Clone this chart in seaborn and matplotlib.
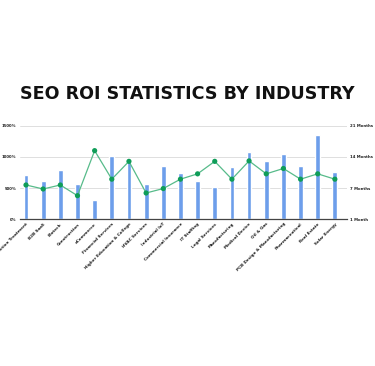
import seaborn as sns
import pandas as pd
import matplotlib.pyplot as plt

industries = [
    'Addiction Treatment', 'B2B SaaS', 'Biotech', 'Construction', 'eCommerce',
    'Financial Services', 'Higher Education & College', 'HVAC Services',
    'Industrial IoT', 'Commercial Insurance', 'IT Staffing', 'Legal Services',
    'Manufacturing', 'Medical Device', 'Oil & Gas', 'PCB Design & Manufacturing',
    'Pharmaceutical', 'Real Estate', 'Solar Energy'
]
# ROI in percent (bars, left axis)
roi = [705, 620, 796, 566, 310, 1020, 950, 561, 849, 737, 620, 513, 833,
       1079, 929, 1047, 849, 1346, 753]
# break-even time in months (line, right axis)
months = [7.7, 6.8, 7.7, 5.3, 15.4, 9.0, 13.0, 5.9, 6.9, 9.0, 10.2, 13.0,
          9.0, 13.1, 10.2, 11.4, 9.0, 10.2, 9.0]

left_ticks = [0, 500, 1000, 1500]
left_labels = ['0%', '500%', '1000%', '1500%']
right_ticks = [0, 7, 14, 21]
right_labels = ['1 Month', '7 Months', '14 Months', '21 Months']

df = pd.DataFrame({'industry': industries, 'roi': roi, 'months': months,
                   'pos': range(len(industries))})

sns.set_style('white')
plt.rcParams['font.family'] = ['DejaVu Sans']

fig = plt.figure(figsize=(3.75, 3.66), dpi=100)
ax = fig.add_axes([0.0533, 0.4008, 0.8717, 0.2558])

sns.barplot(data=df, x='industry', y='roi', color='#6d9eeb', saturation=1,
            width=0.28, ax=ax)
ax.set_xlim(-0.35, 18.7)
ax.set_ylim(0, 1500)
ax.set_yticks(left_ticks)
ax.set_yticklabels(left_labels)
ax.grid(axis='y', color='#d9d9d9', linewidth=0.6)
ax.set_axisbelow(True)
for s in ['top', 'right', 'left']:
    ax.spines[s].set_visible(False)
ax.spines['bottom'].set_color('#444444')
ax.spines['bottom'].set_linewidth(0.9)
ax.tick_params(axis='both', length=0, labelsize=3.0, colors='#222222')
ax.tick_params(axis='y', labelsize=2.8, pad=2.5)
ax.tick_params(axis='x', pad=2)
ax.set_xlabel('')
ax.set_ylabel('')
for lab in ax.get_xticklabels():
    lab.set_rotation(45)
    lab.set_ha('right')
    lab.set_rotation_mode('anchor')
    lab.set_fontweight('bold')
for lab in ax.get_yticklabels():
    lab.set_fontweight('bold')

ax2 = ax.twinx()
sns.lineplot(data=df, x='pos', y='months', color='#57bb8a', linewidth=0.9,
             ax=ax2)
sns.scatterplot(data=df, x='pos', y='months', color='#0f9d58', s=14,
                edgecolor='none', ax=ax2, zorder=5)
ax2.set_ylim(0, 21)
ax2.set_yticks(right_ticks)
ax2.set_yticklabels(right_labels, fontweight='bold')
ax2.tick_params(axis='y', length=0, labelsize=2.8, colors='#222222', pad=2.5)
ax2.set_xlabel('')
ax2.set_ylabel('')
for s in ax2.spines.values():
    s.set_visible(False)

fig.text(0.5, 0.742, 'SEO ROI STATISTICS BY INDUSTRY', ha='center',
         va='center', fontsize=12.6, fontweight='bold', color='#111111')

plt.savefig('out.png', dpi=100)
